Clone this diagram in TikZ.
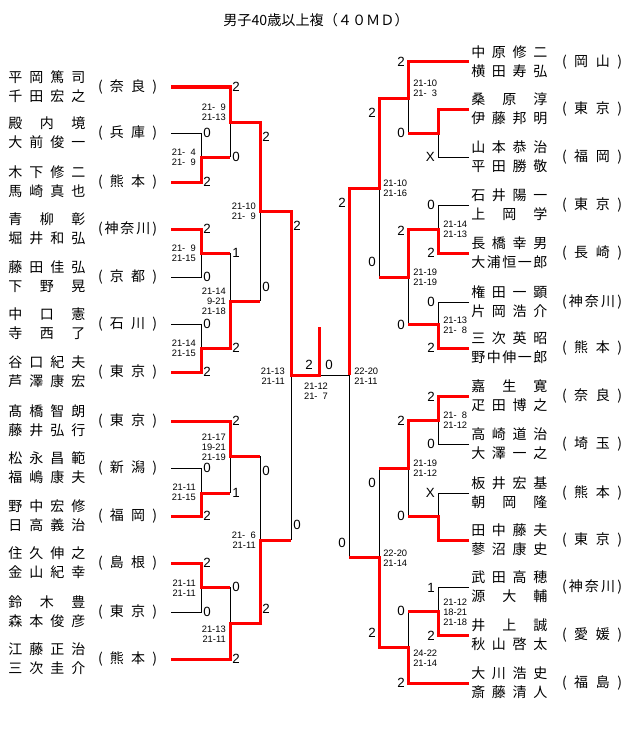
\documentclass[tikz,border=0pt]{standalone}
\usepackage{fontspec}
\setmainfont{Liberation Sans}
\newfontfamily\jp{Noto Sans CJK JP}
\def\jpspx#1#2\jpspend{#1\ifx\relax#2\relax\else\hfill\jpspx#2\jpspend\fi}
\newcommand\jpspread[1]{\jpspx#1\jpspend}
\newcommand\zz{\phantom{0}}
\tikzset{
  rl/.style={draw=red, line width=2.25pt, line join=miter},
  blk/.style={draw=black, line width=0.75pt},
  nm/.style={inner sep=0pt, font=\jp\fontsize{10.5}{12}\selectfont},
  score/.style={inner sep=0pt, font=\fontsize{7}{7.5}\selectfont},
  lbl/.style={inner sep=0pt, font=\fontsize{10}{12}\selectfont},
}
\newcommand\teamL[5]{%
  \node[nm, anchor=west] (#1a) at (8,#2-10) {\makebox[57.75pt]{\jpspread{#3}}};
  \node[nm, anchor=west] (#1b) at (8,#2+9) {\makebox[57.75pt]{\jpspread{#4}}};
  \node[nm] (#1p) at (127.5,#2) {\makebox[44.25pt]{(\hfill\jpspread{#5}\hfill)}};
  \coordinate (#1) at (171,#2);
}
\newcommand\teamR[5]{%
  \node[nm, anchor=west] (#1a) at (471,#2-10) {\makebox[57pt]{\jpspread{#3}}};
  \node[nm, anchor=west] (#1b) at (471,#2+9) {\makebox[57pt]{\jpspread{#4}}};
  \node[nm] (#1p) at (592,#2) {\makebox[45pt]{(\hfill\jpspread{#5}\hfill)}};
  \coordinate (#1) at (469,#2);
}
\begin{document}
\begin{tikzpicture}[x=0.75pt,y=-0.75pt]
\path[use as bounding box, fill=white] (0,0) rectangle (640,749);
\node[nm, font=\jp\fontsize{10.6}{12}\selectfont] (title) at (316,20) {男子40歳以上複（４０ＭＤ）};
% left teams
\teamL{L1}{87}{平岡篤司}{千田宏之}{奈良}
\teamL{L2}{133}{殿内境}{大前俊一}{兵庫}
\teamL{L3}{182}{木下修二}{馬崎真也}{熊本}
\teamL{L4}{229}{青柳彰}{堀井和弘}{神奈川}
\teamL{L5}{277}{藤田佳弘}{下野晃}{京都}
\teamL{L6}{324}{中口憲}{寺西了}{石川}
\teamL{L7}{372}{谷口紀夫}{芦澤康宏}{東京}
\teamL{L8}{421}{髙橋智朗}{藤井弘行}{東京}
\teamL{L9}{468}{松永昌範}{福嶋康夫}{新潟}
\teamL{L10}{516}{野中宏修}{日高義治}{福岡}
\teamL{L11}{563}{住久伸之}{金山紀幸}{島根}
\teamL{L12}{612}{鈴木豊}{森本俊彦}{東京}
\teamL{L13}{659}{江藤正治}{三次圭介}{熊本}
% right teams
\teamR{R1}{62}{中原修二}{横田寿弘}{岡山}
\teamR{R2}{109}{桑原淳}{伊藤邦明}{東京}
\teamR{R3}{157}{山本恭治}{平田勝敬}{福岡}
\teamR{R4}{205}{石井陽一}{上岡学}{東京}
\teamR{R5}{253}{長橋幸男}{大浦恒一郎}{長崎}
\teamR{R6}{302}{権田一顕}{片岡浩介}{神奈川}
\teamR{R7}{348}{三次英昭}{野中伸一郎}{熊本}
\teamR{R8}{396}{嘉生寛}{疋田博之}{奈良}
\teamR{R9}{444}{高崎道治}{大澤一之}{埼玉}
\teamR{R10}{493}{板井宏基}{朝岡隆}{熊本}
\teamR{R11}{540}{田中藤夫}{蓼沼康史}{東京}
\teamR{R12}{587}{武田高穂}{源大輔}{神奈川}
\teamR{R13}{635}{井上誠}{秋山啓太}{愛媛}
\teamR{R14}{683}{大川浩史}{斎藤清人}{福島}
% black lines left
\draw[blk] (L2) -| (201,157);
\draw[blk] (230,122) -- (230,157);
\draw[blk] (L5) -| (201,253);
\draw[blk] (L6) -| (201,348);
\draw[blk] (230,253) -- (230,301);
\draw[blk] (260,211) -- (260,301);
\draw[blk] (L9) -| (201,493);
\draw[blk] (230,456) -- (230,493);
\draw[blk] (260,456) -- (260,540);
\draw[blk] (L12) -| (201,587);
\draw[blk] (230,587) -- (230,623);
\draw[blk] (291,375) -- (291,540);
\draw[blk] (319,375) -- (349,375);
% black lines right
\draw[blk] (R3) -| (438,133);
\draw[blk] (408,98) -- (408,133);
\draw[blk] (R4) -| (438,229);
\draw[blk] (R6) -| (438,324);
\draw[blk] (408,277) -- (408,324);
\draw[blk] (379,188) -- (379,277);
\draw[blk] (R9) -| (438,420);
\draw[blk] (R10) -| (438,516);
\draw[blk] (408,468) -- (408,516);
\draw[blk] (379,468) -- (379,557);
\draw[blk] (R12) -| (438,611);
\draw[blk] (408,611) -- (408,647);
\draw[blk] (349,375) -- (349,557);
% red lines left
\draw[rl] (L1) -| (230,122) -| (260,211) -| (291,375) -| (319,327);
\draw[rl] (L3) -| (201,157) -- (230,157);
\draw[rl] (L4) -| (201,253) -- (230,253);
\draw[rl] (L7) -| (201,348) -| (230,301) -- (260,301);
\draw[rl] (L8) -| (230,456) -- (260,456);
\draw[rl] (L10) -| (201,493) -- (230,493);
\draw[rl] (L11) -| (201,587) -- (230,587);
\draw[rl] (L13) -| (230,623) -| (260,540) -- (291,540);
% red lines right
\draw[rl] (R1) -| (408,98) -| (379,188) -| (349,375);
\draw[rl] (R2) -| (438,133) -- (408,133);
\draw[rl] (R5) -| (438,229) -| (408,277) -- (379,277);
\draw[rl] (R7) -| (438,324) -- (408,324);
\draw[rl] (R8) -| (438,420) -| (408,468) -- (379,468);
\draw[rl] (R11) -| (438,516) -- (408,516);
\draw[rl] (R13) -| (438,611) -- (408,611);
\draw[rl] (R14) -| (408,647) -| (379,557) -- (349,557);
% scores left
\foreach \x/\y/\t [count=\i] in {
  196/157/{21-\zz4\\21-\zz9}, 226/112/{21-\zz9\\21-13}, 196/253/{21-\zz9\\21-15},
  196/348/{21-14\\21-15}, 226/301/{21-14\\9-21\\21-18}, 256/211/{21-10\\21-\zz9},
  226/447/{21-17\\19-21\\21-19}, 196/492/{21-11\\21-15}, 256/540/{21-\zz6\\21-11},
  196/588/{21-11\\21-11}, 226/634/{21-13\\21-11}, 285/376/{21-13\\21-11}}
  \node[score, anchor=east, align=right] (sl\i) at (\x,\y) {\t};
% scores right
\foreach \x/\y/\t [count=\i] in {
  413/88/{21-10\\21-\zz3}, 383/188/{21-10\\21-16}, 443/229/{21-14\\21-13},
  443/325/{21-13\\21-\zz8}, 413/277/{21-19\\21-19}, 354/376/{22-20\\21-11},
  443/420/{21-\zz8\\21-12}, 413/468/{21-19\\21-12}, 383/558/{22-20\\21-14},
  443/612/{21-12\\18-21\\21-18}, 413/658/{24-22\\21-14}}
  \node[score, anchor=west, align=left] (sr\i) at (\x,\y) {\t};
\node[score, align=left] (sfin) at (316,391) {21-12\\21-\zz7};
% game labels left
\foreach \x/\y/\t [count=\i] in {
  232/87/2, 203/133/0, 203/182/2, 232/157/0, 203/229/2, 203/277/0, 232/253/1,
  203/324/0, 203/372/2, 232/348/2, 262/137/2, 262/287/0, 293/226/2, 232/421/2,
  203/468/0, 203/516/2, 232/493/1, 262/471/0, 293/525/0, 203/563/2, 203/612/0,
  232/587/0, 232/659/2, 262/609/2}
  \node[lbl, anchor=west] (gl\i) at (\x,\y) {\t};
% game labels right
\foreach \x/\y/\t [count=\i] in {
  405/62/2, 405/133/0, 435/157/X, 376/113/2, 435/205/0, 435/253/2, 405/231/2,
  435/302/0, 435/348/2, 405/325/0, 376/262/0, 346/203/2, 435/397/2, 435/444/0,
  405/421/2, 435/493/X, 405/516/0, 376/483/0, 346/543/0, 435/588/1, 435/636/2,
  405/611/0, 405/683/2, 376/633/2}
  \node[lbl, anchor=east] (gr\i) at (\x,\y) {\t};
\node[lbl] (gf1) at (309,365) {2};
\node[lbl] (gf2) at (329,365) {0};
\end{tikzpicture}
\end{document}
